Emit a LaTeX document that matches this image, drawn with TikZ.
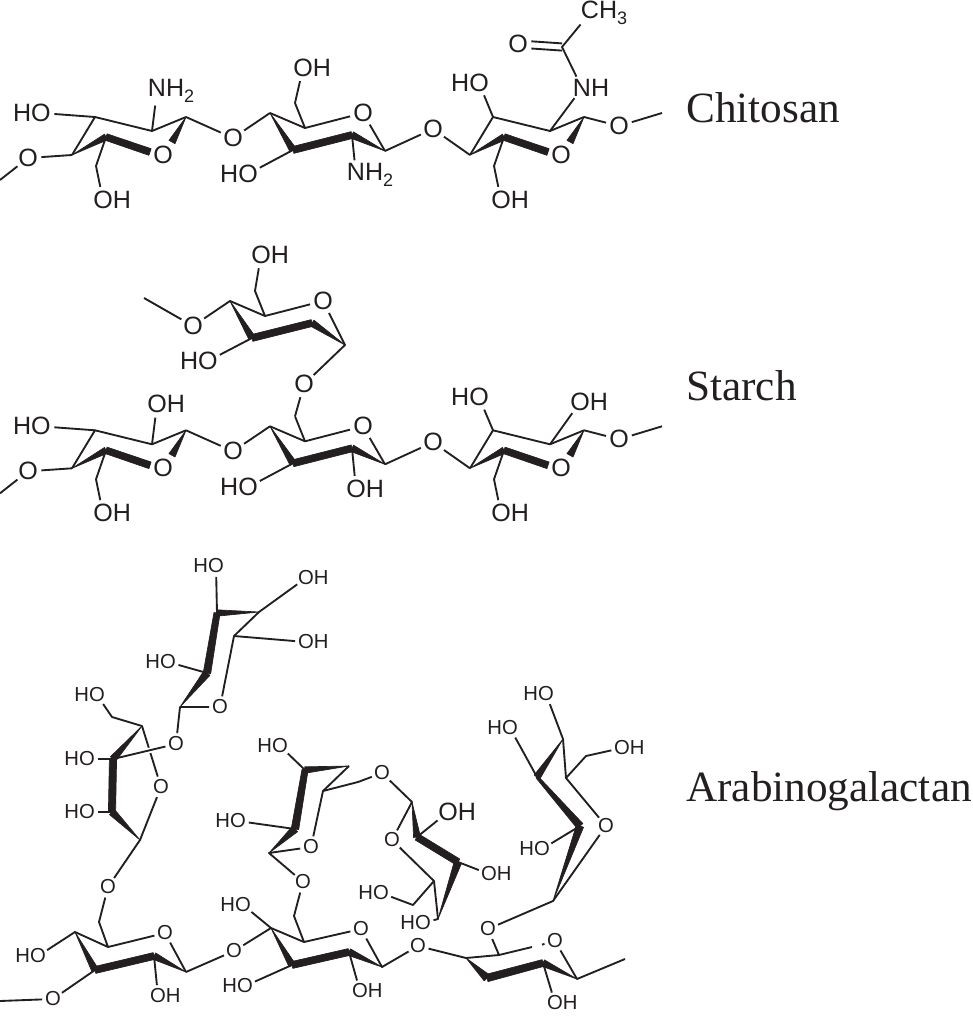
\documentclass[tikz,border=0pt]{standalone}
\usepackage{fontspec}
\usepackage{graphicx}
\setmainfont{Liberation Sans}
\newfontfamily\serifname{Liberation Serif}
\usetikzlibrary{calc}
\definecolor{ink}{HTML}{231F20}
\newcommand\fontL{\fontsize{18.8pt}{21pt}\selectfont}
\newcommand\fontS{\fontsize{15.2pt}{17pt}\selectfont}
\newcommand\subsc[1]{\raisebox{-4pt}{\fontsize{13.5pt}{15pt}\selectfont #1}}
\tikzset{
  bond/.style={draw=ink,line width=1.4pt,line join=round},
  heavy/.style={fill=ink,draw=ink,line width=.5pt,line join=round},
  atom/.style={circle,inner sep=0pt,text=ink,font=\fontL},
  atomS/.style={circle,inner sep=0pt,text=ink,font=\fontS},
  title/.style={anchor=base west,inner sep=0pt,text=ink,font={\serifname\fontsize{32.4pt}{36pt}\selectfont}},
  halo/.style={preaction={draw=white,line width=4pt}}
}
\newcommand\vtx[3]{\coordinate (#1) at (#2,#3);}
\newcommand\atm[4]{\node[atom] (#1) at (#2,#3) {#4};}
\newcommand\ats[4]{\node[atomS] (#1) at (#2,#3) {#4};}
\newcommand\wdg[4]{\filldraw[heavy] ($(#1)!#3!90:(#2)$) -- ($(#2)!#4!-90:(#1)$) -- ($(#2)!#4!90:(#1)$) -- ($(#1)!#3!-90:(#2)$) -- cycle;}
\newcommand\OH{O\rlap{H}}
\newcommand\HO{\llap{H}O}
% pyranose drawn with its ring oxygen on the right
\newcommand\sugarA[1]{%
  \vtx{#1c1}{186}{117}\vtx{#1c2}{152}{131}\vtx{#1c3}{95}{117}\vtx{#1c4}{72}{155}
  \vtx{#1c5}{106}{137}\vtx{#1ch}{96}{166}\vtx{#1w}{172}{142}\vtx{#1e}{150}{152}
  \atm{#1o}{163}{155}{O}\atm{#1oh}{103}{200}{\OH}
  \draw[bond] (#1c4)--(#1c3)--(#1c2)--(#1c1);
  \draw[bond] (#1c5)--(#1ch)--(#1oh);
  \wdg{#1c4}{#1c5}{0pt}{2.4pt}
  \wdg{#1c5}{#1e}{2.5pt}{2.6pt}
  \wdg{#1c1}{#1w}{0pt}{2.6pt}
}
\newcommand\sugarB[1]{%
  \vtx{#1c4}{270}{113}\vtx{#1c3}{293}{150}\vtx{#1c2}{352}{135}\vtx{#1c1}{385}{151}
  \vtx{#1c5}{305}{128}\vtx{#1ch}{295}{103}
  \atm{#1o}{363}{113}{O}\atm{#1ho}{248}{174}{\HO}
  \draw[bond] (#1c4)--(#1c5)--(#1o)--(#1c1);
  \draw[bond] (#1c5)--(#1ch);
  \draw[bond] (#1c3)--(#1ho);
  \wdg{#1c4}{#1c3}{0pt}{2.6pt}
  \wdg{#1c3}{#1c2}{2.6pt}{2.6pt}
  \wdg{#1c2}{#1c1}{2.6pt}{0pt}
}
\begin{document}
\begin{tikzpicture}[x=.75pt,y=-.75pt]
\path[use as bounding box] (0,0) rectangle (972,1017);

%%% Chitosan
\begin{scope}
  \sugarA{a}
  \atm{aho}{41}{113}{\HO}
  \atm{aoL}{28}{158}{O}
  \vtx{aend}{0}{180}
  \atm{an}{157}{91}{N\rlap{H\subsc{2}}}
  \draw[bond] (aend)--(aoL)--(ac4);
  \draw[bond] (ac3)--(aho);
  \draw[bond] (ac2)--(an);
\end{scope}
\atm{alink}{233}{138}{O}
\begin{scope}
  \sugarB{b}
  \atm{boh}{303}{68}{\OH}
  \atm{bn}{356}{175}{N\rlap{H\subsc{2}}}
  \draw[bond] (bch)--(boh);
  \draw[bond] (bc2)--(bn);
\end{scope}
\draw[bond] (ac1)--(alink)--(bc4);
\atm{blink}{433}{129}{O}
\begin{scope}[shift={(398,0)}]
  \sugarA{c}
  \atm{cend0}{221}{126}{O}
  \vtx{cend}{264}{113}
  \atm{cho}{81}{83}{\HO}
  \atm{cn}{184}{88}{N\rlap{H}}
  \vtx{cco}{164}{47}
  \atm{co2}{120}{44}{O}
  \atm{cme}{192}{13}{C\rlap{H\subsc{3}}}
  \draw[bond] (cc3)--(cho);
  \draw[bond] (cc2)--(cn)--(cco)--(cme);
  \draw[bond,transform canvas={yshift=2.7pt}] (cco)--(co2);
  \draw[bond,transform canvas={yshift=-2.7pt}] (cco)--(co2);
  \draw[bond] (cc1)--(cend0)--(cend);
\end{scope}
\draw[bond] (bc1)--(blink)--(cc4);
\node[title] (chitosan) at (686,122) {Chitosan};

%%% Starch
\begin{scope}[shift={(0,313.3)}]
  \sugarA{d}
  \atm{dho}{41}{113}{\HO}
  \atm{doL}{28}{158}{O}
  \vtx{dend}{0}{180}
  \atm{doh2}{157}{91}{\OH}
  \draw[bond] (dend)--(doL)--(dc4);
  \draw[bond] (dc3)--(dho);
  \draw[bond] (dc2)--(doh2);
  \atm{dlink}{233}{138}{O}
  \sugarB{e}
  \atm{elo}{304}{71}{O}
  \atm{eoh}{356}{176}{\OH}
  \draw[bond] (ech)--(elo);
  \draw[bond] (ec2)--(eoh);
  \atm{elink}{433}{129}{O}
\end{scope}
\draw[bond] (dc1)--(dlink)--(ec4);
\begin{scope}[shift={(398,313.3)}]
  \sugarA{f}
  \atm{fend0}{221}{126}{O}
  \vtx{fend}{264}{113}
  \atm{fho}{81}{84}{\HO}
  \atm{foh2}{182}{89}{\OH}
  \draw[bond] (fc3)--(fho);
  \draw[bond] (fc2)--(foh2);
  \draw[bond] (fc1)--(fend0)--(fend);
\end{scope}
\draw[bond] (ec1)--(elink)--(fc4);
% starch branch
\vtx{gend}{144}{298}\vtx{gc4}{230}{301}\vtx{gc3}{252}{338}\vtx{gc2}{312}{323}
\vtx{gc1}{345}{345}\vtx{gc5}{265}{316}\vtx{gch}{255}{291}
\atm{go}{193}{326}{O}\atm{goh}{261}{255}{\OH}\atm{gr}{323}{301}{O}\atm{gho}{208}{361}{\HO}
\draw[bond] (gend)--(go)--(gc4)--(gc5)--(gr)--(gc1)--(elo);
\draw[bond] (gc5)--(gch)--(goh);
\draw[bond] (gc3)--(gho);
\wdg{gc4}{gc3}{0pt}{2.6pt}
\wdg{gc3}{gc2}{2.6pt}{2.6pt}
\wdg{gc2}{gc1}{2.6pt}{0pt}
\node[title] (starch) at (686,400) {Starch};

%%% Arabinogalactan: top ring
\vtx{ha}{217}{613}\vtx{hb}{259}{612}\vtx{hc}{234}{636}\vtx{hd}{207}{673}\vtx{he}{180}{707}
\ats{hho1}{216}{566}{\HO}\ats{hoh1}{306}{578}{\OH}\ats{hoh2}{306}{642}{\OH}
\ats{hho2}{168}{662}{\HO}\ats{hr}{220}{707}{O}\ats{hl}{176}{744}{O}
\draw[bond] (hho1)--(ha);
\draw[bond] (hoh1)--(hb)--(hc)--(hoh2);
\draw[bond] (hc)--(hr)--(he)--(hl);
\draw[bond] (hho2)--(hd);
\wdg{ha}{hb}{2.4pt}{0pt}
\wdg{ha}{hd}{2.3pt}{2.8pt}
\wdg{hd}{he}{2.8pt}{0pt}
% second ring
\vtx{ia}{142}{726}\vtx{ib}{113}{759}\vtx{ic}{112}{812}\vtx{id}{140}{840}\vtx{ich}{112}{717}
\ats{iho1}{97}{695}{\HO}\ats{iho2}{87}{759}{\HO}\ats{iho3}{87}{812}{\HO}
\ats{ir}{161}{787}{O}\ats{il}{108}{887}{O}
\draw[bond] (iho1)--(ich)--(ia)--(ir)--(id)--(il);
\draw[bond] (iho2)--(ib);
\draw[bond] (iho3)--(ic);
\draw[bond,halo] (hl)--(ib);
\wdg{ia}{ib}{0pt}{2.6pt}
\wdg{ib}{ic}{2.7pt}{2.7pt}
\wdg{ic}{id}{2.7pt}{0pt}
% lower-left ring
\vtx{jc4}{75}{932}\vtx{jc3}{95}{970}\vtx{jc2}{154}{956}\vtx{jc1}{186}{972}\vtx{jc5}{108}{947}\vtx{jch}{99}{922}\vtx{jend}{0}{1001}
\ats{jho}{38}{956}{\HO}\ats{jr}{165}{933}{O}\ats{joh}{158}{996}{\OH}\ats{jb}{53}{999}{O}\ats{jl}{234}{951}{O}
\draw[bond] (il)--(jch)--(jc5)--(jc4)--(jho);
\draw[bond] (jc5)--(jr)--(jc1);
\draw[bond] (jc2)--(joh);
\draw[bond] (jend)--(jb)--(jc3);
\draw[bond] (jc1)--(jl);
\wdg{jc4}{jc3}{0pt}{2.6pt}
\wdg{jc3}{jc2}{2.6pt}{2.6pt}
\wdg{jc2}{jc1}{2.6pt}{0pt}
% lower-middle ring
\vtx{kc4}{271}{928}\vtx{kc3}{292}{965}\vtx{kc2}{349}{952}\vtx{kc1}{382}{967}\vtx{kc5}{304}{942}\vtx{kch}{294}{916}
\ats{kho1}{243}{905}{\HO}\ats{kho2}{245}{986}{\HO}\ats{kr}{361}{929}{O}\ats{koh}{360}{991}{\OH}
\ats{ku}{303}{882}{O}\ats{kl}{418}{946}{O}
\draw[bond] (jl)--(kc4)--(kc5)--(kr)--(kc1)--(kl);
\draw[bond] (kc4)--(kho1);
\draw[bond] (kc3)--(kho2);
\draw[bond] (kc5)--(kch)--(ku);
\draw[bond] (kc2)--(koh);
\wdg{kc4}{kc3}{0pt}{2.6pt}
\wdg{kc3}{kc2}{2.6pt}{2.6pt}
\wdg{kc2}{kc1}{2.6pt}{0pt}
% lower-right ring
\vtx{lc4}{466}{958}\vtx{lc3}{487}{978}\vtx{lc2}{543}{963}\vtx{lc1}{577}{979}\vtx{lc5}{499}{955}
\vtx{lgap1}{532}{947}\vtx{lgap2}{542}{944.6}\vtx{lend}{625}{959}
\ats{lr}{555}{941}{O}\ats{lu}{488}{929}{O}\ats{loh}{555}{1003}{\OH}
\draw[bond] (kl)--(lc4)--(lc5)--(lgap1);
\draw[bond] (lgap2)--(lr)--(lc1)--(lend);
\draw[bond] (lc5)--(lu);
\draw[bond] (lc2)--(loh);
\wdg{lc4}{lc3}{0pt}{3pt}
\wdg{lc3}{lc2}{2.8pt}{2.6pt}
\wdg{lc2}{lc1}{2.6pt}{0pt}
% middle-left upper ring
\vtx{ma}{305}{770}\vtx{mb}{349}{766}\vtx{mc}{323}{791}\vtx{md}{295}{829}\vtx{me}{269}{853}\vtx{mch}{358}{782}
\ats{mho1}{280}{746}{\HO}\ats{mho2}{238}{821}{\HO}\ats{mr}{311}{847}{O}\ats{ml}{382}{773}{O}
\draw[bond] (mho1)--(ma);
\draw[bond] (mb)--(mc)--(mr)--(me)--(ku);
\draw[bond] (mho2)--(md);
\draw[bond] (mc)--(mch)--(ml);
\wdg{ma}{mb}{2.4pt}{0pt}
\wdg{ma}{md}{2.3pt}{2.8pt}
\wdg{md}{me}{2.8pt}{0pt}
% middle-right upper ring
\vtx{nc1}{412}{802}\vtx{nc2}{417}{837}\vtx{nc3}{458}{862}\vtx{nc4}{438}{919}\vtx{nc5}{434}{881}\vtx{nch}{413}{905}
\ats{nr}{392}{840}{O}\ats{nho}{381}{893}{\HO}\ats{nho2}{423}{923}{\HO}
\node[atom] (noh1) at (448,812) {\OH};
\ats{noh2}{489}{874}{\OH}
\draw[bond] (ml)--(nc1)--(nr)--(nc5)--(nc4)--(nho2);
\draw[bond] (nc5)--(nch)--(nho);
\draw[bond] (nc2)--(noh1);
\draw[bond] (nc3)--(noh2);
\wdg{nc1}{nc2}{0pt}{2.6pt}
\wdg{nc2}{nc3}{2.6pt}{2.6pt}
\wdg{nc3}{nc4}{2.8pt}{0pt}
% right upper ring
\vtx{pc1}{553}{901}\vtx{pc2}{580}{826}\vtx{pc3}{537}{777}\vtx{pc4}{563}{739}\vtx{pc5}{566}{778}\vtx{pch}{586}{756}
\ats{pho1}{542}{849}{\HO}\ats{pho2}{510}{728}{\HO}\ats{pho3}{546}{694}{\HO}\ats{poh}{622}{748}{\OH}\ats{pr}{606}{826}{O}
\draw[bond] (lu)--(pc1)--(pr)--(pc5)--(pc4)--(pho3);
\draw[bond] (pc5)--(pch)--(poh);
\draw[bond] (pc3)--(pho2);
\draw[bond] (pc2)--(pho1);
\wdg{pc3}{pc4}{2.6pt}{0pt}
\wdg{pc3}{pc2}{1pt}{2.8pt}
\wdg{pc2}{pc1}{2.8pt}{0pt}
\node[title] (arabino) at (686,801) {Arabinogalactan};
\end{tikzpicture}
\end{document}
